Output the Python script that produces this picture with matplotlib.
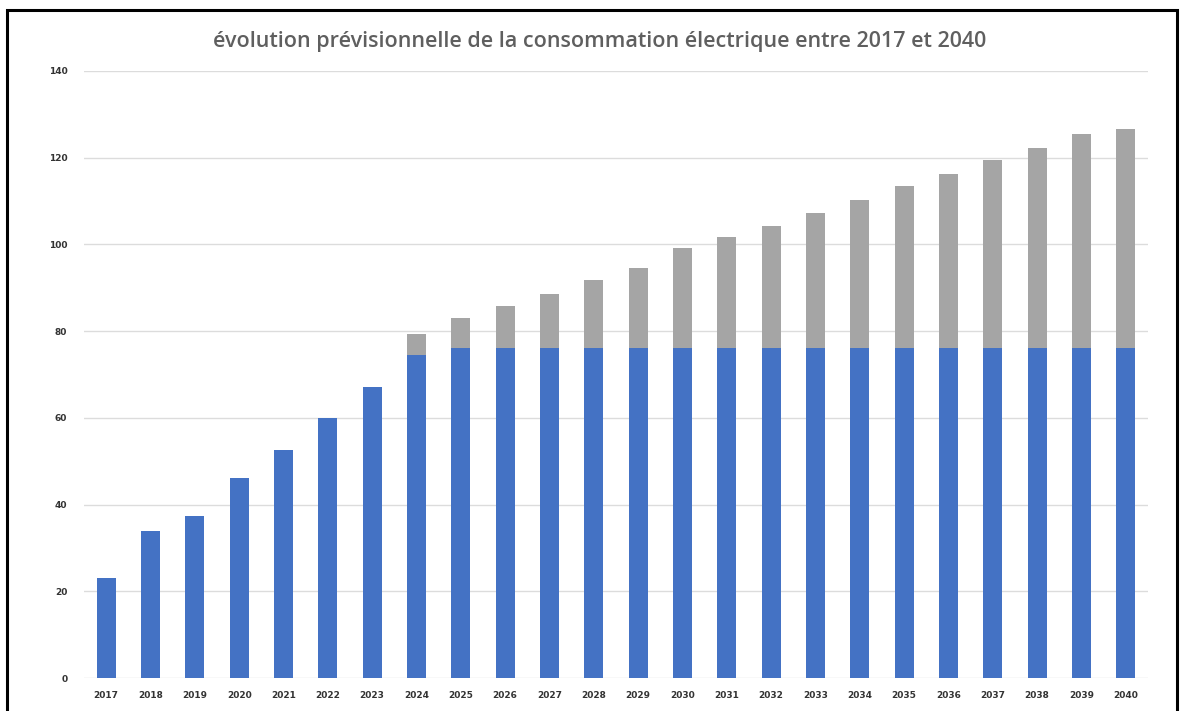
import matplotlib
matplotlib.use("Agg")
import matplotlib.pyplot as plt
from matplotlib.patches import Rectangle

years = [str(y) for y in range(2017, 2041)]
# consommation "de base" (bleu) et surplus prévisionnel (gris)
base = [23.1, 33.9, 37.4, 46.1, 52.6, 60.0, 67.1, 74.4,
        76, 76, 76, 76, 76, 76, 76, 76, 76, 76, 76, 76, 76, 76, 76, 76]
extra = [0, 0, 0, 0, 0, 0, 0, 4.9,
         7.0, 9.8, 12.6, 15.8, 18.6, 23.1, 25.8, 28.3, 31.2,
         34.3, 37.5, 40.3, 43.5, 46.3, 49.4, 50.6]
yticks = [0, 20, 40, 60, 80, 100, 120, 140]
title = "évolution prévisionnelle de la consommation électrique entre 2017 et 2040"

fig = plt.figure(figsize=(11.84, 7.11), dpi=100)
ax = fig.add_axes([84 / 1184, 1 - 678 / 711, (1148 - 84) / 1184, (678 - 71) / 711])

x = range(len(years))
ax.bar(x, base, width=0.43, color="#4472C4", zorder=2)
ax.bar(x, extra, width=0.43, bottom=base, color="#A5A5A5", zorder=2)

ax.set_xlim(-0.5, len(years) - 0.5)
ax.set_ylim(0, 140)
ax.set_yticks(yticks)
ax.set_xticks(list(x))
ax.set_xticklabels(years)
ax.grid(axis="y", color="#dcdcdc", linewidth=1.0, zorder=0)
for s in ax.spines.values():
    s.set_visible(False)
ax.tick_params(length=0, labelsize=6.5, labelcolor="#333333")
ax.tick_params(axis="y", pad=12)
ax.tick_params(axis="x", pad=9)
for lab in ax.get_xticklabels() + ax.get_yticklabels():
    lab.set_fontweight("bold")

fig.text(600 / 1184, 1 - 42 / 711, title, ha="center", va="center",
         fontsize=15.5, fontweight="semibold", color="#5f5f5f", family="Open Sans")

# cadre noir autour du graphique
fig.patches.append(Rectangle((6.5 / 1184, -0.1), (1177 - 6.5) / 1184, 1.1 - 10.5 / 711,
                             transform=fig.transFigure, fill=False,
                             edgecolor="black", linewidth=2.2))

fig.savefig("out.png", dpi=100)
